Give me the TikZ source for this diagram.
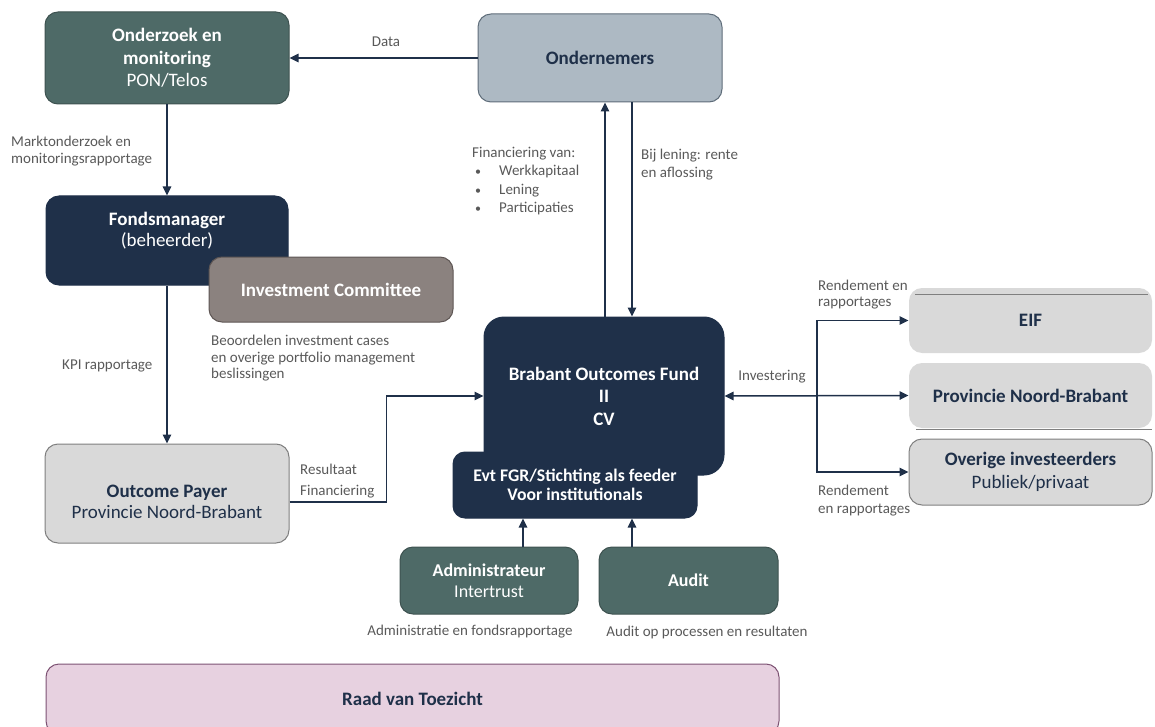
\documentclass[tikz,border=0pt]{standalone}
\usepackage{fontspec}
\setmainfont{Carlito}
\usetikzlibrary{arrows.meta}
\definecolor{navy}{HTML}{1F3049}
\definecolor{tealbox}{HTML}{4E6A67}
\definecolor{tealline}{HTML}{3E5250}
\definecolor{icfill}{HTML}{8B827F}
\definecolor{iclin}{HTML}{5E5654}
\definecolor{ondfill}{HTML}{ADB9C3}
\definecolor{ondline}{HTML}{5F6D7A}
\definecolor{lgrey}{HTML}{D9D9D9}
\definecolor{gline}{HTML}{7F7F7F}
\definecolor{raadfill}{HTML}{E7D1E0}
\definecolor{raadline}{HTML}{7D5273}
\definecolor{lblgray}{HTML}{595959}
\newcommand{\blt}{\hspace*{3pt}\makebox[24pt][l]{\fontsize{12}{12}\selectfont\textbullet}}
\begin{document}
\begin{tikzpicture}[x=1pt,y=-1pt,
  box/.style={rectangle, rounded corners=13pt, line width=1pt, inner sep=0pt, align=center, font=\fontsize{19}{22.5}\selectfont},
  tealstyle/.style={box, fill=tealbox, draw=tealline, text=white},
  navystyle/.style={box, fill=navy, draw=navy, text=white},
  greystyle/.style={box, fill=lgrey, draw=gline, text=navy},
  txt/.style={inner sep=0pt, align=center, font=\fontsize{19}{21.5}\selectfont},
  lbl/.style={inner sep=0pt, align=left, text=lblgray, font=\fontsize{15}{17}\selectfont},
  arr/.style={draw=navy, line width=1.5pt, -{Triangle[length=9pt,width=8.5pt]}},
  arrb/.style={draw=navy, line width=1.5pt, {Triangle[length=9pt,width=8.5pt]}-{Triangle[length=9pt,width=8.5pt]}},
  ln/.style={draw=navy, line width=1.5pt}]
\useasboundingbox (0,0) rectangle (1155,727);

% boxes
\node[tealstyle, minimum width=244pt, minimum height=92pt] (onz) at (167,58)
  {\textbf{Onderzoek en}\\\textbf{monitoring}\\PON/Telos};
\node[box, fill=ondfill, draw=ondline, text=navy, minimum width=244pt, minimum height=88pt] (ond) at (600,58)
  {\textbf{Ondernemers}};
\node[navystyle, minimum width=242pt, minimum height=89pt] (fm) at (167,240.5) {};
\node[txt, text=white] (fmt) at (167,230.5) {\textbf{Fondsmanager}\\(beheerder)};
\node[box, fill=icfill, draw=iclin, text=white, minimum width=244pt, minimum height=65pt] (ic) at (331,289.5)
  {\textbf{Investment Committee}};
\node[greystyle, minimum width=244pt, minimum height=99pt] (op) at (167,493.5) {};
\node[txt, text=navy] (opt) at (167,502) {\textbf{Outcome Payer}\\Provincie Noord-Brabant};
\node[navystyle, rounded corners=20pt, minimum width=240pt, minimum height=158pt] (bof) at (604,396)
  {\textbf{Brabant Outcomes Fund}\\\textbf{II}\\\textbf{CV}};
\node[navystyle, rounded corners=12pt, minimum width=244pt, minimum height=66pt, font=\fontsize{17.7}{19}\selectfont] (evt) at (575,485)
  {\textbf{Evt FGR/Stichting als feeder}\\\textbf{Voor institutionals}};
\node[tealstyle, minimum width=178pt, minimum height=67pt, font=\fontsize{18}{21}\selectfont] (adm) at (489,580.5)
  {\textbf{Administrateur}\\Intertrust};
\node[tealstyle, minimum width=179pt, minimum height=67pt, font=\fontsize{18}{21}\selectfont] (aud) at (688.5,580.5)
  {\textbf{Audit}};
\node[box, fill=lgrey, draw=none, text=navy, minimum width=243pt, minimum height=65pt] (eif) at (1030.5,320.5)
  {\textbf{EIF}};
\node[box, fill=lgrey, draw=none, text=navy, minimum width=243pt, minimum height=65pt] (prov) at (1030.5,395.5)
  {\textbf{Provincie Noord-Brabant}};
\node[greystyle, minimum width=243pt, minimum height=66pt] (ovr) at (1030.5,472)
  {\textbf{Overige investeerders}\\Publiek/privaat};
\draw[gline, line width=1pt] (915,294) -- (1148,294);
\draw[gline, line width=1pt] (916,429) -- (1152,429);
\node[box, fill=raadfill, draw=raadline, text=navy, minimum width=733pt, minimum height=70pt] (raad) at (412.5,699)
  {\textbf{Raad van Toezicht}};

% connectors
\draw[arr] (ond) -- (onz);
\draw[arr] (onz) -- (fm);
\draw[arr] (fm) -- (op);
\draw[arr] ([yshift=-8.5pt]op.east) -- ++(97,0) |- (bof.west);
\draw[arr] ([xshift=1pt]bof.north) -- ([xshift=1pt]bof.north |- ond.south);
\draw[arr] ([xshift=28pt]bof.north |- ond.south) -- ([xshift=28pt]bof.north);
\draw[arr] ([xshift=34pt]adm.north) -- ([xshift=34pt]adm.north |- evt.south);
\draw[arr] ([xshift=-56.5pt]aud.north) -- ([xshift=-56.5pt]aud.north |- evt.south);
\coordinate (j) at (817,396);
\draw[arrb] (bof.east) -- (prov.west);
\draw[arr] (j) |- (eif.west);
\draw[arr] (j) |- (ovr.west);

% labels
\node[lbl] (ldata) at (386,42) {Data};
\node[lbl, anchor=west] (lmark) at (11,151) {Marktonderzoek en\\monitoringsrapportage};
\node[lbl, anchor=west] (lkpi) at (62,366) {KPI rapportage};
\node[lbl, anchor=west, font=\fontsize{15}{16.5}\selectfont] (lbeo) at (211,358.5) {Beoordelen investment cases\\en overige portfolio management\\beslissingen};
\node[lbl, anchor=north west, font=\fontsize{15}{18.3}\selectfont] (lfin) at (472,147)
  {Financiering van:\\\blt Werkkapitaal\\\blt Lening\\\blt Participaties};
\node[lbl, anchor=west, font=\fontsize{15}{18}\selectfont] (lbij) at (641,165) {Bij lening: rente\\en aflossing};
\node[lbl, anchor=west, font=\fontsize{15}{21}\selectfont] (lres) at (300,481) {Resultaat\\Financiering};
\node[lbl] (linv) at (772,377) {Investering};
\node[lbl, anchor=west, font=\fontsize{15}{16}\selectfont] (lrend1) at (818,295) {Rendement en\\rapportages};
\node[lbl, anchor=west, font=\fontsize{15}{18}\selectfont] (lrend2) at (818,501) {Rendement\\en rapportages};
\node[lbl] (ladm) at (470,632) {Administratie en fondsrapportage};
\node[lbl] (laud) at (707,632) {Audit op processen en resultaten};
\end{tikzpicture}
\end{document}
